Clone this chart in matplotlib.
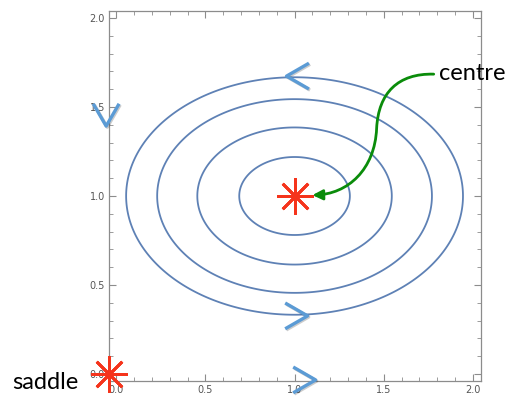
import numpy as np
import matplotlib.pyplot as plt
import matplotlib.patheffects as pe
from matplotlib.path import Path
from matplotlib.patches import FancyArrowPatch
from matplotlib.ticker import MultipleLocator

# орбиты вокруг центра: (x-1)^2 + 2(y-1)^2 = c
centre = (1.0, 1.0)
saddle = (-0.04, 0.0)
semi_axes = [0.31, 0.545, 0.77, 0.944]
levels = [a ** 2 for a in semi_axes]

# стрелки-шевроны: x, y вершины и направление (градусы)
chev_x = [0.955, 1.073, -0.056, 1.118]
chev_y = [1.674, 0.326, 1.393, -0.034]
chev_dir = [180, 0, -90, 0]

ticks = [0.0, 0.5, 1.0, 1.5, 2.0]

fig = plt.figure(figsize=(5.07, 4.01), dpi=100)
ax = fig.add_axes([109 / 507, 20 / 401, 372 / 507, 370 / 401])
ax.set_xlim(-0.04, 2.045)
ax.set_ylim(-0.04, 2.04)

# контуры
gx, gy = np.meshgrid(np.linspace(-0.1, 2.1, 400), np.linspace(-0.1, 2.1, 400))
F = (gx - centre[0]) ** 2 + 2 * (gy - centre[1]) ** 2
ax.contour(gx, gy, F, levels=levels, colors='#5e81b5', linewidths=1.3)

# шевроны
shadow = [pe.SimpleLineShadow(offset=(0.8, -0.8), alpha=0.2), pe.Normal()]
arm = 0.145
for x0, y0, d in zip(chev_x, chev_y, chev_dir):
    back = np.radians(d + 180)
    xs, ys = [], []
    for s in (-30, 30):
        t = back + np.radians(s)
        xs.append(x0 + arm * np.cos(t))
        ys.append(y0 + arm * np.sin(t))
    ax.plot([xs[0], x0, xs[1]], [ys[0], y0, ys[1]], color='#5b9bd5', lw=2.4,
            solid_capstyle='butt', clip_on=False, zorder=5, path_effects=shadow)

# звёздочки
for p in (centre, saddle):
    ax.plot(*p, marker=(8, 2, 0), ms=26, mew=2.0, color='#f5341c',
            clip_on=False, zorder=6)

# зелёная стрелка к центру
verts = [(1.78, 1.685), (1.58, 1.69), (1.47, 1.58), (1.46, 1.38),
         (1.45, 1.15), (1.30, 1.01), (1.10, 1.005)]
codes = [Path.MOVETO, Path.CURVE4, Path.CURVE4, Path.CURVE4,
         Path.CURVE4, Path.CURVE4, Path.CURVE4]
arr = FancyArrowPatch(path=Path(verts, codes), arrowstyle='-|>,head_length=6,head_width=3',
                      color='#0a8c0a', lw=2.0, clip_on=False, zorder=7)
ax.add_patch(arr)

ax.text(1.81, 1.69, 'centre', fontsize=17, family='Lato', va='center', ha='left',
        clip_on=False)
ax.text(-0.585, -0.05, 'saddle', fontsize=17, family='Lato', va='center', ha='left',
        clip_on=False)

# оформление рамки в стиле Mathematica
for sp in ax.spines.values():
    sp.set_color('#8c8c8c')
    sp.set_linewidth(0.9)
ax.xaxis.set_minor_locator(MultipleLocator(0.1))
ax.yaxis.set_minor_locator(MultipleLocator(0.1))
ax.set_xticks(ticks)
ax.set_yticks(ticks)
ax.set_xticklabels([f'{t:.1f}' for t in ticks])
ax.set_yticklabels([f'{t:.1f}' for t in ticks])
ax.tick_params(which='both', direction='in', top=True, right=True, color='#8c8c8c',
               labelsize=7, labelcolor='#555555', pad=3)
ax.tick_params(which='major', length=5, width=0.8)
ax.tick_params(which='minor', length=3, width=0.6)

fig.savefig('out.png', dpi=100)
